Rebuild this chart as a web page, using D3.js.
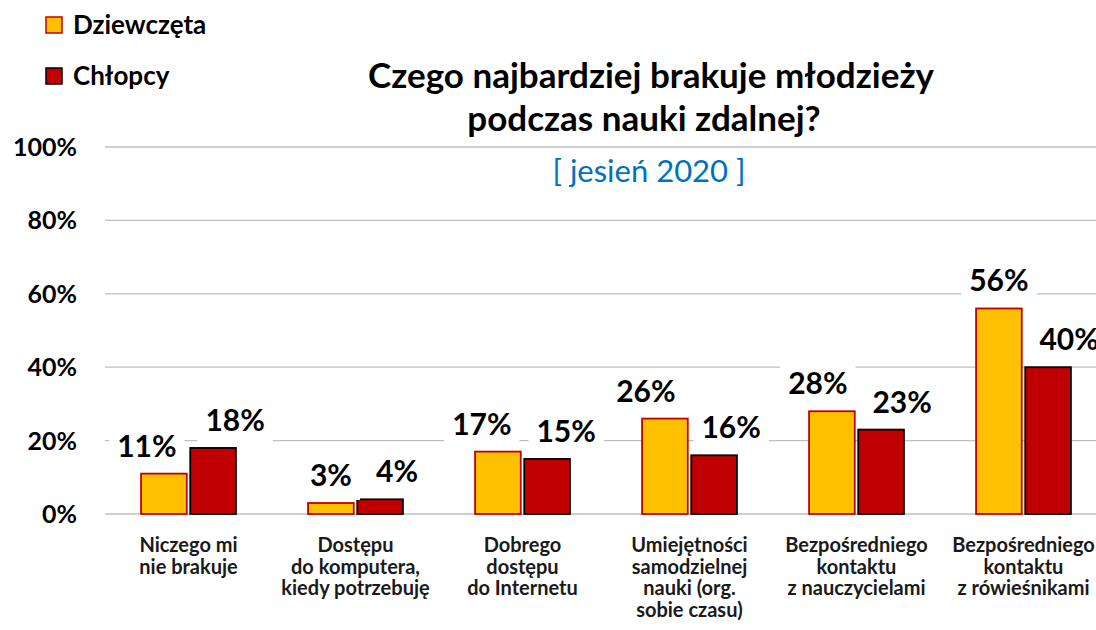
<!DOCTYPE html>
<html>
<head>
<meta charset="utf-8">
<script src="https://cdn.jsdelivr.net/npm/d3@7"></script>
<style>
  body { margin: 0; background: #fff; }
  svg { display: block; font-family: Lato, "Open Sans", sans-serif; }
</style>
</head>
<body>
<div id="root"></div>
<script>
// data
var categories = [
  ["Niczego mi", "nie brakuje"],
  ["Dostępu", "do komputera,", "kiedy potrzebuję"],
  ["Dobrego", "dostępu", "do Internetu"],
  ["Umiejętności", "samodzielnej", "nauki (org.", "sobie czasu)"],
  ["Bezpośredniego", "kontaktu", "z nauczycielami"],
  ["Bezpośredniego", "kontaktu", "z rówieśnikami"]
]
var girls = [11, 3, 17, 26, 28, 56]
var boys = [18, 4, 15, 16, 23, 40]
var seriesNames = ["Dziewczęta", "Chłopcy"]
var yTicks = [0, 20, 40, 60, 80, 100]

// label nudges (layout only, like the hand-placed labels in the original)
var nudgeGirls = [-17, 0, -16, -19, -14, 0]
var nudgeBoys = [22, 17, 19, 17, 21, 21]

var W = 1096, H = 630
var colors = {fill: ["#FFC000", "#C00000"], stroke: ["#C00000", "#000000"]}

var svg = d3.select("#root").append("svg")
  .attr("width", W).attr("height", H)

var x0 = d3.scaleBand()
  .domain(d3.range(categories.length))
  .range([105, 1107])
  .paddingInner(0.42)
  .paddingOuter(0.21)

var x1 = d3.scaleBand()
  .domain([0, 1])
  .range([0, x0.bandwidth()])
  .paddingInner(0.03)

var y = d3.scaleLinear().domain([0, 100]).range([514, 147])

// gridlines
svg.append("g").selectAll("line")
  .data(yTicks)
  .enter().append("line")
    .attr("x1", 105).attr("x2", W)
    .attr("y1", d => y(d)).attr("y2", d => y(d))
    .attr("stroke", "#BFBFBF")
    .attr("stroke-width", 1.3)

// y axis labels
svg.append("g").selectAll("text")
  .data(yTicks)
  .enter().append("text")
    .attr("x", 77)
    .attr("y", d => y(d))
    .attr("dy", "0.36em")
    .attr("text-anchor", "end")
    .attr("font-size", 25)
    .attr("font-weight", "bold")
    .attr("fill", "#000")
    .text(d => d + "%")

// bars
var rows = categories.map((c, i) => ({i: i, vals: [girls[i], boys[i]]}))

var groups = svg.append("g").selectAll("g")
  .data(rows)
  .enter().append("g")
    .attr("transform", d => "translate(" + x0(d.i) + ",0)")

groups.selectAll("rect")
  .data(d => d.vals.map((v, s) => ({s: s, v: v})))
  .enter().append("rect")
    .attr("x", d => x1(d.s) + 1)
    .attr("width", x1.bandwidth() - 2)
    .attr("y", d => y(d.v))
    .attr("height", d => y(0) - y(d.v))
    .attr("fill", d => colors.fill[d.s])
    .attr("stroke", d => colors.stroke[d.s])
    .attr("stroke-width", 1.8)

// value labels with white boxes that break the gridlines
var labels = []
rows.forEach(function(r) {
  r.vals.forEach(function(v, s) {
    var nudge = s == 0 ? nudgeGirls[r.i] : nudgeBoys[r.i]
    labels.push({
      x: x0(r.i) + x1(s) + x1.bandwidth() / 2 + nudge,
      y: y(v) - 17,
      t: v + "%"
    })
  })
})

var lab = svg.append("g").selectAll("g")
  .data(labels)
  .enter().append("g")

lab.append("text")
  .attr("x", d => d.x)
  .attr("y", d => d.y)
  .attr("text-anchor", "middle")
  .attr("font-size", 30)
  .attr("font-weight", "bold")
  .attr("fill", "#000")
  .text(d => d.t)

lab.each(function() {
  var g = d3.select(this)
  var b = g.select("text").node().getBBox()
  g.insert("rect", "text")
    .attr("x", b.x - 8).attr("y", b.y - 2)
    .attr("width", b.width + 16).attr("height", b.height + 10)
    .attr("fill", "#fff")
})

// category labels
var cat = svg.append("g").selectAll("text")
  .data(rows)
  .enter().append("text")
    .attr("x", d => x0(d.i) + x0.bandwidth() / 2)
    .attr("y", 552)
    .attr("text-anchor", "middle")
    .attr("font-size", 20)
    .attr("font-weight", "bold")
    .attr("fill", "#1a1a1a")

cat.selectAll("tspan")
  .data(d => categories[d.i])
  .enter().append("tspan")
    .attr("x", function() { return d3.select(this.parentNode).attr("x") })
    .attr("dy", (d, i) => i == 0 ? 0 : 21.7)
    .text(d => d)

// legend
var leg = svg.append("g").selectAll("g")
  .data(seriesNames)
  .enter().append("g")
    .attr("transform", (d, i) => "translate(46," + (17 + i * 51) + ")")

leg.append("rect")
  .attr("width", 16).attr("height", 16)
  .attr("fill", (d, i) => colors.fill[i])
  .attr("stroke", (d, i) => colors.stroke[i])
  .attr("stroke-width", 1.5)

leg.append("text")
  .attr("x", 27).attr("y", 8)
  .attr("dy", "0.36em")
  .attr("font-size", 26)
  .attr("font-weight", "bold")
  .attr("fill", "#000")
  .text(d => d)

// title
svg.append("text")
  .attr("x", 651).attr("y", 88)
  .attr("text-anchor", "middle")
  .attr("font-size", 35)
  .attr("font-weight", "bold")
  .text("Czego najbardziej brakuje młodzieży")

svg.append("text")
  .attr("x", 644).attr("y", 131)
  .attr("text-anchor", "middle")
  .attr("font-size", 35)
  .attr("font-weight", "bold")
  .text("podczas nauki zdalnej?")

svg.append("text")
  .attr("x", 649).attr("y", 182)
  .attr("text-anchor", "middle")
  .attr("font-size", 31)
  .attr("fill", "#0070C0")
  .text("[ jesień 2020 ]")
</script>
</body>
</html>
